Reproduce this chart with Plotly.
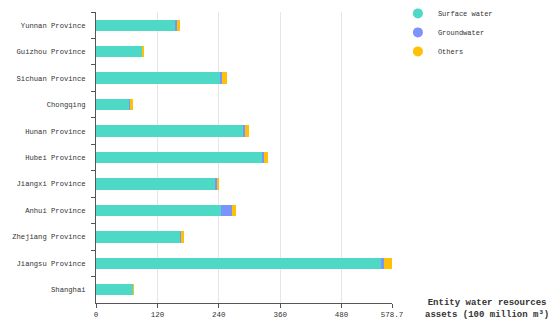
import plotly.graph_objects as go

provinces = ["Yunnan Province", "Guizhou Province", "Sichuan Province", "Chongqing",
             "Hunan Province", "Hubei Province", "Jiangxi Province", "Anhui Province",
             "Zhejiang Province", "Jiangsu Province", "Shanghai"]
surface_water = [155.7, 90.7, 241.6, 65.4, 287.2, 325.5, 234.5, 243.5, 166.0, 559.0, 72.6]
groundwater = [2.3, 0.5, 5.2, 0.3, 4.5, 3.3, 2.0, 22.8, 0.5, 3.3, 0.2]
others = [5.5, 2.8, 9.2, 7.0, 7.8, 8.2, 4.5, 7.7, 6.5, 16.4, 1.0]
series_names = ["Surface water", "Groundwater", "Others"]
series_colors = ["#4ed8c6", "#7b93fb", "#ffc107"]
x_tickvals = [0, 120, 240, 360, 480, 578.7]
x_ticktext = ["0", "120", "240", "360", "480", "578.7"]

MONO = "Liberation Mono"
fig = go.Figure()
for name, vals, col in zip(series_names, [surface_water, groundwater, others], series_colors):
    fig.add_trace(go.Bar(y=provinces, x=vals, orientation="h", name=name,
                         marker=dict(color=col, line=dict(width=0)), showlegend=False))
for name, col in zip(series_names, series_colors):
    fig.add_trace(go.Scatter(x=[None], y=[None], mode="markers", name=name,
                             marker=dict(color=col, size=10, symbol="circle")))

fig.update_layout(
    width=550, height=326, barmode="stack", bargap=0.57,
    paper_bgcolor="white", plot_bgcolor="white",
    margin=dict(l=96, r=158, t=12, b=23, autoexpand=False),
    font=dict(family=MONO, size=8, color="#333"),
    legend=dict(x=1.02, y=1.045, xanchor="left", yanchor="top", traceorder="normal",
                font=dict(family=MONO, size=7, color="#333"),
                itemwidth=30, tracegroupgap=0),
    annotations=[dict(text="<b>Entity water resources<br>assets (100 million m³)</b>",
                      xref="paper", yref="paper", x=1.32, y=0.025, xanchor="center",
                      yanchor="top", showarrow=False, align="center",
                      font=dict(family=MONO, size=9, color="#333"))],
)
fig.update_xaxes(range=[0, 578.7], tickvals=x_tickvals, ticktext=x_ticktext,
                 showgrid=True, gridcolor="#e6e6e6", gridwidth=1,
                 showline=True, linecolor="#555", linewidth=1,
                 ticks="outside", ticklen=4, tickcolor="#555",
                 tickfont=dict(family=MONO, size=7.5, color="#333"), zeroline=False)
fig.update_yaxes(autorange="reversed", showgrid=False, showline=True, linecolor="#555",
                 linewidth=1, ticks="outside", ticklen=4, tickcolor="#555",
                 tickson="boundaries", tickfont=dict(family=MONO, size=7.2, color="#333"),
                 ticklabelstandoff=8)

fig.write_html("out.html", config={"displayModeBar": False},
               post_script="document.body.style.margin='0';")
